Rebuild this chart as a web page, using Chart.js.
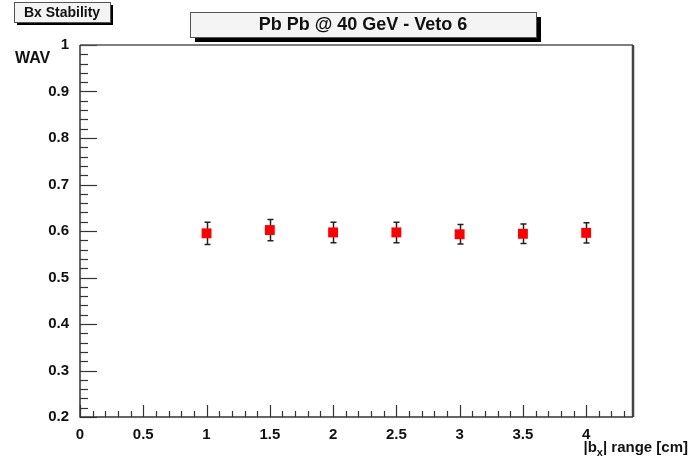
<!DOCTYPE html>
<html>
<head>
<meta charset="utf-8">
<script src="https://cdn.jsdelivr.net/npm/chart.js@4.4.1/dist/chart.umd.min.js"></script>
<style>
  html, body { margin: 0; padding: 0; background: #fff; }
  #wrap { width: 698px; height: 463px; }
</style>
</head>
<body>
<div id="wrap"><canvas id="chart" width="698" height="463"></canvas></div>
<script>
const bxRange = [1, 1.5, 2, 2.5, 3, 3.5, 4];
const wavValues = [0.595, 0.602, 0.597, 0.597, 0.593, 0.594, 0.596];
const wavErrors = [0.024, 0.023, 0.022, 0.022, 0.021, 0.021, 0.022];
const xTickLabels = [0, 0.5, 1, 1.5, 2, 2.5, 3, 3.5, 4];
const yTickLabels = [0.2, 0.3, 0.4, 0.5, 0.6, 0.7, 0.8, 0.9, 1];

const FONT = '"Liberation Sans", Arial, Helvetica, sans-serif';

// ROOT-style decorations: inner ticks, frame, title boxes, axis titles, error bars
const rootStyle = {
    id: 'rootStyle',
    beforeDatasetsDraw(chart) {
        const ctx = chart.ctx;
        const xs = chart.scales.x, ys = chart.scales.y;
        ctx.save();
        ctx.strokeStyle = '#222';
        ctx.lineWidth = 1.5;
        bxRange.forEach((bx, i) => {
            const px = Math.round(xs.getPixelForValue(bx)) + 0.5;
            const top = ys.getPixelForValue(wavValues[i] + wavErrors[i]);
            const bot = ys.getPixelForValue(wavValues[i] - wavErrors[i]);
            ctx.beginPath();
            ctx.moveTo(px, top); ctx.lineTo(px, bot);
            ctx.moveTo(px - 3, top); ctx.lineTo(px + 3, top);
            ctx.moveTo(px - 3, bot); ctx.lineTo(px + 3, bot);
            ctx.stroke();
        });
        ctx.restore();
    },
    afterDraw(chart) {
        const ctx = chart.ctx;
        const a = chart.chartArea;
        const xs = chart.scales.x, ys = chart.scales.y;
        ctx.save();

        // inner ticks
        ctx.strokeStyle = '#333';
        ctx.lineWidth = 1.2;
        for (let i = 0; i <= 43; i++) {
            const v = i / 10;
            const px = Math.round(xs.getPixelForValue(v)) + 0.5;
            const len = (i % 5 === 0) ? 12 : 6;
            ctx.beginPath();
            ctx.moveTo(px, a.bottom); ctx.lineTo(px, a.bottom - len);
            ctx.stroke();
        }
        for (let i = 0; i <= 40; i++) {
            const v = 0.2 + i * 0.02;
            const py = Math.round(ys.getPixelForValue(v)) + 0.5;
            const len = (i % 5 === 0) ? 17 : 8;
            ctx.beginPath();
            ctx.moveTo(a.left, py); ctx.lineTo(a.left + len, py);
            ctx.stroke();
        }

        // frame
        ctx.strokeStyle = '#555';
        ctx.lineWidth = 1.5;
        ctx.beginPath();
        ctx.moveTo(a.left, a.top); ctx.lineTo(a.right, a.top);
        ctx.stroke();
        ctx.strokeStyle = '#444';
        ctx.lineWidth = 2.5;
        ctx.beginPath();
        ctx.moveTo(a.right, a.top); ctx.lineTo(a.right, a.bottom);
        ctx.stroke();
        ctx.strokeStyle = '#333';
        ctx.lineWidth = 1.5;
        ctx.beginPath();
        ctx.moveTo(a.left, a.top); ctx.lineTo(a.left, a.bottom); ctx.lineTo(a.right, a.bottom);
        ctx.stroke();

        // title boxes
        function box(x, y, w, h, sh, text, size) {
            ctx.fillStyle = '#000';
            ctx.fillRect(x + sh, y + sh, w, h);
            ctx.fillStyle = '#f4f4f4';
            ctx.fillRect(x, y, w, h);
            ctx.strokeStyle = '#555';
            ctx.lineWidth = 1;
            ctx.strokeRect(x + 0.5, y + 0.5, w, h);
            ctx.fillStyle = '#111';
            ctx.font = 'bold ' + size + 'px ' + FONT;
            ctx.textAlign = 'center';
            ctx.textBaseline = 'middle';
            ctx.fillText(text, x + w / 2, y + h / 2 + 1);
        }
        box(14, 2, 96, 20, 3, 'Bx Stability', 14);
        box(190, 12, 346, 25, 5, 'Pb Pb @ 40 GeV - Veto 6', 18);

        // y title
        ctx.fillStyle = '#111';
        ctx.font = 'bold 16px ' + FONT;
        ctx.textAlign = 'left';
        ctx.textBaseline = 'alphabetic';
        ctx.fillText('WAV', 15, 63);

        // x title with subscript
        const p1 = '|b', p3 = '| range [cm]';
        ctx.font = 'bold 11px ' + FONT;
        const wSub = ctx.measureText('x').width;
        ctx.font = 'bold 15px ' + FONT;
        const w1 = ctx.measureText(p1).width, w3 = ctx.measureText(p3).width;
        const x0 = 688 - (w1 + wSub + w3);
        const base = 452;
        ctx.fillText(p1, x0, base);
        ctx.font = 'bold 11px ' + FONT;
        ctx.fillText('x', x0 + w1, base + 4);
        ctx.font = 'bold 15px ' + FONT;
        ctx.fillText(p3, x0 + w1 + wSub, base);

        ctx.restore();
    }
};

new Chart(document.getElementById('chart'), {
    type: 'scatter',
    data: {
        datasets: [{
            data: bxRange.map((x, i) => ({ x: x, y: wavValues[i] })),
            backgroundColor: '#ff0000',
            borderColor: '#ff0000',
            pointStyle: 'rect',
            pointRadius: 7,
            pointHoverRadius: 7,
            borderWidth: 0
        }]
    },
    options: {
        responsive: false,
        animation: false,
        layout: { padding: { top: 45, right: 65, left: 0, bottom: 0 } },
        plugins: { legend: { display: false }, tooltip: { enabled: false } },
        scales: {
            x: {
                type: 'linear',
                min: 0,
                max: 4.37,
                border: { display: false },
                grid: { display: false },
                afterFit(scale) { scale.height = 46; },
                afterBuildTicks(scale) { scale.ticks = xTickLabels.map(v => ({ value: v })); },
                ticks: {
                    autoSkip: false,
                    maxRotation: 0,
                    padding: 1,
                    color: '#111',
                    font: { family: FONT, size: 15, weight: 'bold' },
                    callback: function (v) { return String(v); }
                }
            },
            y: {
                min: 0.2,
                max: 1,
                border: { display: false },
                grid: { display: false },
                afterFit(scale) { scale.width = 80; },
                afterBuildTicks(scale) { scale.ticks = yTickLabels.map(v => ({ value: v })); },
                ticks: {
                    padding: 3,
                    color: '#111',
                    font: { family: FONT, size: 15, weight: 'bold' },
                    callback: function (v) { return String(v); }
                }
            }
        }
    },
    plugins: [rootStyle]
});
</script>
</body>
</html>
